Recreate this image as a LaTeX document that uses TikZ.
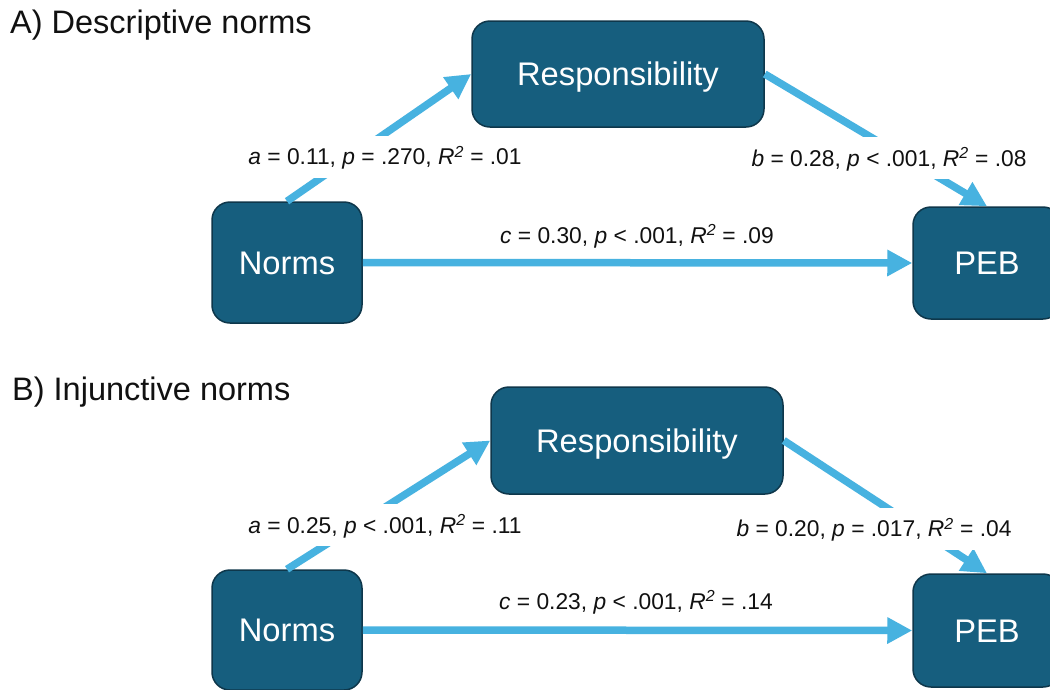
\documentclass[tikz,border=0pt]{standalone}
\usepackage{fontspec}
\setmainfont{Liberation Sans}
\usetikzlibrary{arrows.meta}
\definecolor{boxfill}{RGB}{22,94,126}
\definecolor{boxborder}{RGB}{14,55,75}
\definecolor{arrowblue}{RGB}{71,178,224}
\definecolor{titlecol}{RGB}{17,17,17}
\begin{document}
\begin{tikzpicture}[x=1pt,y=-1pt,
  varbox/.style={draw=boxborder, line width=1.5pt, fill=boxfill, rounded corners=18pt,
    text=white, font=\fontsize{32.7}{38}\selectfont, text height=23.5pt, text depth=0pt, inner sep=0pt},
  lab/.style={fill=white, text=titlecol, font=\fontsize{22.8}{27}\selectfont,
    text height=16pt, text depth=0pt, minimum height=42pt, inner xsep=2pt, inner ysep=0pt},
  paneltitle/.style={anchor=base west, text=titlecol, font=\fontsize{32.5}{38}\selectfont, inner sep=0pt},
  arr/.style={draw=arrowblue, line width=7.5pt, -{Triangle[width=25pt,length=25pt]}}
]
\useasboundingbox (0,0) rectangle (1050,689);
\clip (0,0) rectangle (1050,689);
\fill[white] (0,0) rectangle (1050,689);

% Panel A
\node[paneltitle] (tA) at (10,33.3) {A) Descriptive norms};
\node[varbox, minimum width=292pt, minimum height=106pt] (rA) at (618,74) {Responsibility};
\node[varbox, minimum width=150pt, minimum height=121pt] (nA) at (287,262.5) {Norms};
\node[varbox, minimum width=148pt, minimum height=112pt] (pA) at (987,263) {PEB};
\draw[arr] (nA.north) -- (rA.west);
\draw[arr] (rA.east) -- (pA.north);
\draw[arr] (nA.east) -- (pA.west);
\node[lab] (laA) at (385,156.7) {\textit{a} = 0.11, \textit{p} = .270, \textit{R}\textsuperscript{\textit{2}} = .01};
\node[lab] (lbA) at (889,158) {\textit{b} = 0.28, \textit{p} < .001, \textit{R}\textsuperscript{\textit{2}} = .08};
\node[lab] (lcA) at (637,235.4) {\textit{c} = 0.30, \textit{p} < .001, \textit{R}\textsuperscript{\textit{2}} = .09};

% Panel B
\node[paneltitle] (tB) at (12,400) {B) Injunctive norms};
\node[varbox, minimum width=292pt, minimum height=107pt] (rB) at (637,440.5) {Responsibility};
\node[varbox, minimum width=150pt, minimum height=120pt] (nB) at (287,630) {Norms};
\node[varbox, minimum width=148pt, minimum height=113pt] (pB) at (987,630.5) {PEB};
\draw[arr] (nB.north) -- (rB.west);
\draw[arr] (rB.east) -- (pB.north);
\draw[arr] (nB.east) -- (pB.west);
\node[lab] (laB) at (385,525.3) {\textit{a} = 0.25, \textit{p} < .001, \textit{R}\textsuperscript{\textit{2}} = .11};
\node[lab] (lbB) at (874,528.7) {\textit{b} = 0.20, \textit{p} = .017, \textit{R}\textsuperscript{\textit{2}} = .04};
\node[lab] (lcB) at (636,601) {\textit{c} = 0.23, \textit{p} < .001, \textit{R}\textsuperscript{\textit{2}} = .14};
\end{tikzpicture}
\end{document}
